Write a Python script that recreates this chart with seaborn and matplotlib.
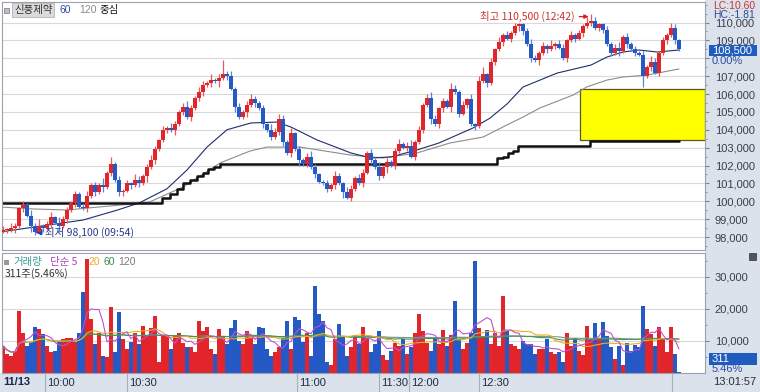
import numpy as np
import pandas as pd
import seaborn as sns
import matplotlib.pyplot as plt
from matplotlib.patches import Rectangle

sns.set_style("white")
plt.rcParams['font.family'] = ['Noto Sans CJK KR', 'DejaVu Sans']
NUM_FONT = ['Liberation Sans Narrow', 'Liberation Sans', 'DejaVu Sans']

W, H = 760, 392

# ---- data (tick bars, one per slot) ----
first_open = 98300
close = [
    98400, 98400, 98500, 98600, 99600, 99800, 99200, 98600, 98300, 98600,
    98500, 98700, 99100, 98800, 98600, 99000, 99500, 99900, 100400, 99700,
    99600, 100300, 100900, 100500, 100900, 100800, 101600, 102100, 101200, 100500,
    100600, 101000, 100900, 101200, 101000, 101400, 101900, 102300, 102900, 103400,
    104000, 104100, 104000, 104300, 105000, 105300, 104700, 105200, 105800, 106100,
    106500, 106600, 106800, 106700, 106900, 107100, 107000, 106300, 105300, 104700,
    105000, 105400, 105700, 105500, 105200, 104300, 104000, 103600, 103900, 104600,
    103300, 102700, 103800, 102900, 102300, 102100, 102500, 101900, 101500, 101100,
    101000, 100700, 100900, 101400, 101000, 100500, 100200, 100700, 101300, 101000,
    101600, 102700, 102300, 101900, 101400, 101900, 102200, 102000, 102800, 103200,
    103000, 103100, 102500, 103300, 104000, 105400, 105800, 104600, 104300, 105200,
    105600, 105300, 106300, 106100, 104900, 105400, 105700, 104300, 104200, 106700,
    107100, 106600, 107800, 108500, 108900, 109300, 109100, 109400, 109800, 109900,
    109500, 108800, 108000, 107900, 108300, 108700, 108500, 108700, 108800, 108600,
    108000, 109000, 109300, 109100, 109400, 109800, 110000, 110100, 109700, 109900,
    109600, 108800, 108300, 108600, 108400, 109200, 108800, 108500, 108300, 108200,
    107000, 107500, 107800, 107200, 108300, 109000, 109300, 109700, 109000, 108500,
]
# wick above / below the body, in 100-won ticks
hi_ext = ("2132121324" "1231322121" "2312141412" "1213212321" "2132123213"
          "2131282312" "1232121323" "2131212321" "1213213212" "2121312123"
          "1231212321" "2132121313" "4121312121" "1232121312" "2121213421"
          "1212312121" "2132121321")
lo_ext = ("1213121321" "2121312121" "1212131212" "2121213121" "1213121212"
          "2121312131" "1312121212" "2121312121" "1212131211" "2121213121"
          "1212121312" "2131212121" "1212121213" "2121312121" "1212121212"
          "2121312121" "6121212121")
volume = [
    8400, 6000, 5300, 7000, 19400, 12500, 8400, 9600, 14400, 13700,
    12200, 8400, 6500, 7000, 10000, 10600, 10800, 11000, 9800, 12500,
    25300, 35500, 16900, 9000, 12500, 5300, 5000, 20600, 6500, 19100,
    10600, 7500, 9700, 12500, 9000, 14700, 11600, 14100, 17800, 3400,
    12000, 12000, 7500, 11500, 12500, 9500, 8000, 8200, 6500, 16300,
    13100, 14300, 7500, 6000, 13700, 11500, 9000, 14000, 16600, 10000,
    9000, 13100, 11300, 9000, 14300, 14000, 7500, 5300, 6500, 8200,
    11000, 16300, 7500, 17500, 16600, 9600, 12500, 5300, 27200, 18400,
    16300, 3400, 2500, 10600, 15300, 11600, 5300, 8000, 12000, 9000,
    14500, 11000, 6500, 9000, 13000, 5500, 4200, 7000, 9500, 8500,
    10500, 6000, 8000, 12500, 18500, 13000, 9500, 7000, 11000, 9000,
    13500, 8500, 12000, 22500, 10500, 7500, 9500, 12500, 35000, 14000,
    11500, 13500, 9000, 12500, 8500, 24000, 13100, 9000, 8500, 7500,
    10000, 9000, 9000, 6000, 7500, 7500, 10600, 6500, 6000, 6500,
    3500, 12500, 8500, 11000, 7000, 5500, 14700, 10500, 15600, 11000,
    16000, 11500, 8000, 4500, 8500, 2500, 9500, 7000, 8800, 8000,
    21000, 13700, 12200, 8500, 14300, 10600, 6500, 14300, 5800, 311,
]

# price moving averages (60 / 120) and the 중심 line, read as knots (bar index, price)
ma60_idx = [-0.75, 20, 28.5, 34, 41, 46, 51, 56, 62, 68.5, 72, 78.5, 87, 92, 97,
            103.5, 109, 117.5, 121.75, 126, 130, 138.5, 147, 151, 155, 159, 163.5, 169]
ma60_val = [98280, 98950, 99500, 99900, 100700, 101750, 103030, 104000, 104380, 104430,
            104150, 103430, 102700, 102420, 102480, 102870, 103260, 104100, 104650,
            105440, 106390, 107170, 107620, 108070, 108350, 108460, 108350, 108460]
ma120_idx = [-0.75, 7.5, 16, 24, 32.5, 36.75, 45, 54.25, 61.75, 66, 74.25, 86.75, 95,
             103.5, 111.75, 120, 126, 130, 134.25, 142.5, 146, 151, 155, 161, 169]
ma120_val = [99680, 99570, 99510, 99680, 99850, 99970, 100800, 102140, 102810, 103030,
             103030, 102590, 102420, 102700, 103260, 103590, 104270, 104710, 105220,
             105940, 106400, 106780, 106950, 107060, 107400]
center_idx = [-0.75, 38.5, 39.75, 41.75, 43.5, 45, 46.75, 48.5, 50, 51.25, 52.75, 54.25,
              122.5, 123.5, 125, 126.25, 127.5, 128.75, 146, 146.75, 169]
center_val = [99900, 99900, 100200, 100400, 100700, 101000, 101200, 101400, 101600,
              101800, 101900, 102100, 102100, 102400, 102500, 102700, 102800, 103100,
              103100, 103350, 103350]

zone_start_idx = 144.25
zone_top, zone_bottom = 106300, 103450

time_pos = [10.5, 31, 73.5, 94, 101.5, 119]
time_labels = ["10:00", "10:30", "11:00", "11:30", "12:00", "12:30"]

# ---- derived frame ----
df = pd.DataFrame({"close": close, "volume": volume})
df["idx"] = np.arange(len(df))
df["open"] = [first_open] + close[:-1]
df["high"] = df[["open", "close"]].max(axis=1) + [int(c) * 100 for c in hi_ext]
df["low"] = df[["open", "close"]].min(axis=1) - [int(c) * 100 for c in lo_ext]
df["up"] = df["close"] >= df["open"]

UP, DN = '#e1252b', '#2459c6'
UPW, DNW = '#e45a5a', '#5a82d6'
STRIP = '#dbe2eb'
GRID = '#d9d9d9'
EDGE = '#9aa2ad'

fig = plt.figure(figsize=(W / 100, H / 100), dpi=100)


def fx(px):
    return px / W


def fy(py):
    return 1 - py / H


def ftext(px, py, s, **kw):
    kw.setdefault('va', 'center')
    kw.setdefault('ha', 'left')
    return fig.text(fx(px), fy(py), s, **kw)


# background strips (kept under the axes)
fig.patches.append(Rectangle((fx(705), 0), fx(760) - fx(705), 1, transform=fig.transFigure,
                             facecolor=STRIP, edgecolor='none', zorder=-5))
fig.patches.append(Rectangle((0, 0), fx(705), fy(373), transform=fig.transFigure,
                             facecolor=STRIP, edgecolor='none', zorder=-5))

XL = (-0.25, 175.5)

# ---- price panel ----
ax = fig.add_axes([fx(2), fy(250), fx(705) - fx(2), fy(2) - fy(250)])
ax.set_xlim(*XL)
ax.set_ylim(97273, 111147)
ax.set_yticks(np.arange(98000, 110001, 1000))
ax.set_yticks(np.arange(97500, 111001, 500), minor=True)
ax.set_yticklabels([f"{v:,}" if v != 108000 else "" for v in range(98000, 110001, 1000)])
ax.yaxis.tick_right()
ax.tick_params(axis='y', which='major', length=3, color='#7a828d', pad=4,
               labelsize=8, labelcolor='#3a3f48')
ax.tick_params(axis='y', which='minor', length=1.5, color='#7a828d')
for t in ax.get_yticklabels():
    t.set_fontfamily(NUM_FONT)
ax.set_xticks([])
ax.grid(axis='y', color=GRID, lw=0.8)
ax.set_axisbelow(True)
for s in ax.spines.values():
    s.set_color(EDGE)
    s.set_linewidth(0.8)

ax.add_patch(Rectangle((zone_start_idx, zone_bottom), XL[1] - zone_start_idx,
                       zone_top - zone_bottom, facecolor='#ffff00',
                       edgecolor='#5a5a20', lw=0.9, zorder=1))

sns.lineplot(x=ma120_idx, y=ma120_val, ax=ax, color='#8c8c8c', lw=0.8, zorder=2)
sns.lineplot(x=ma60_idx, y=ma60_val, ax=ax, color='#1e2f6a', lw=0.8, zorder=2)
sns.lineplot(x=center_idx, y=center_val, ax=ax, color='#111111', lw=1.8, zorder=2,
             drawstyle='steps-post', estimator=None, sort=False)

body = (df["close"] - df["open"]).abs().clip(lower=60)
ax.vlines(df["idx"], df["low"], df["high"], colors=np.where(df["up"], UPW, DNW),
          lw=0.9, zorder=3)
ax.bar(df["idx"], body, bottom=df[["open", "close"]].min(axis=1), width=0.82,
       color=np.where(df["up"], UP, DN), zorder=4, linewidth=0)

ax.annotate("최고 110,500 (12:42)", xy=(146.4, 110330), xytext=(142.9, 110330),
            ha='right', va='center', color='#c83232', fontsize=7.5,
            arrowprops=dict(arrowstyle='-|>', color='#d02020', lw=0.9,
                            mutation_scale=6, shrinkA=1, shrinkB=0))
ax.annotate("최저 98,100 (09:54)", xy=(7.9, 98280), xytext=(10.4, 98280),
            ha='left', va='center', color='#28388a', fontsize=7.5,
            arrowprops=dict(arrowstyle='-|>', color='#1f3fbf', lw=1.5,
                            mutation_scale=8, shrinkA=0, shrinkB=0))
ax.set_xlabel("")
ax.set_ylabel("")

# ---- volume panel ----
av = fig.add_axes([fx(2), fy(373), fx(705) - fx(2), fy(253) - fy(373)])
av.set_xlim(*XL)
av.set_ylim(0, 37500)
av.set_yticks([10000, 20000, 30000])
av.set_yticks(np.arange(5000, 36000, 5000), minor=True)
av.set_yticklabels(["10,000", "20,000", "30,000"])
av.yaxis.tick_right()
av.tick_params(axis='y', which='major', length=3, color='#7a828d', pad=4,
               labelsize=8, labelcolor='#3a3f48')
av.tick_params(axis='y', which='minor', length=1.5, color='#7a828d')
for t in av.get_yticklabels():
    t.set_fontfamily(NUM_FONT)
av.set_xticks([])
av.grid(axis='y', color=GRID, lw=0.8)
av.set_axisbelow(True)
for s in av.spines.values():
    s.set_color(EDGE)
    s.set_linewidth(0.8)

av.bar(df["idx"], df["volume"], width=1.0, color=np.where(df["up"], UP, DN),
       linewidth=0, zorder=2)
for win, col in [(120, '#8c8c8c'), (60, '#3a9a50'), (20, '#e8b020'), (5, '#c050d0')]:
    sns.lineplot(x=df["idx"], y=df["volume"].rolling(win, min_periods=1).mean(),
                 ax=av, color=col, lw=0.8, zorder=3)
av.set_xlabel("")
av.set_ylabel("")

# ---- time strip ----
at = fig.add_axes([fx(2), fy(392), fx(705) - fx(2), fy(373) - fy(392)])
at.set_xlim(*XL)
at.set_ylim(0, 1)
at.axis('off')
for p, lab in zip(time_pos, time_labels):
    at.axvline(p, color='#a7afba', lw=0.8)
    at.text(p + 0.4, 0.45, lab, va='center', ha='left', fontsize=8,
            color='#1f2c48', family=NUM_FONT)
at.axvline(167.25, color='#a7afba', lw=0.8)
ftext(3, 382, "11/13", fontsize=8, color='#1a2850', fontweight='bold', family=NUM_FONT)
ftext(713, 382, "13:01:57", fontsize=8, color='#2a2f3a', family=NUM_FONT)

# ---- legends / headers ----
fig.patches.append(Rectangle((fx(4), fy(13)), 5 / W, 5 / H, transform=fig.transFigure,
                             facecolor='#bdbdbd', edgecolor='#8a8a8a', lw=0.6))
ftext(14, 10, "신풍제약", fontsize=7.5, color='#333333',
      bbox=dict(boxstyle='square,pad=0.15', facecolor='#dadada', edgecolor='#b5b5b5', lw=0.6))
ftext(60, 10, "60", fontsize=7.5, color='#2a4a9a', family=NUM_FONT)
ftext(79, 10, "120", fontsize=7.5, color='#8a8a8a', family=NUM_FONT)
ftext(100, 10, "중심", fontsize=7.5, color='#111111')

fig.patches.append(Rectangle((fx(4), fy(265)), 5 / W, 5 / H, transform=fig.transFigure,
                             facecolor='#9a9a9a', edgecolor='none'))
ftext(13, 262, "거래량", fontsize=7.5, color='#3a9a9a')
ftext(50, 262, "단순 5", fontsize=7.5, color='#b040c0')
ftext(88, 262, "20", fontsize=7.5, color='#e0b020', family=NUM_FONT)
ftext(103, 262, "60", fontsize=7.5, color='#3a8a4a', family=NUM_FONT)
ftext(118, 262, "120", fontsize=7.5, color='#7a7a7a', family=NUM_FONT)
ftext(5, 274, "311주(5.46%)", fontsize=7.5, color='#333333')

# ---- right-hand readouts ----
ftext(713, 6, "LC:10.60", fontsize=7.5, color='#c83232', family=NUM_FONT)
ftext(713, 14.5, "HC:-1.81", fontsize=7.5, color='#2a4a9a', family=NUM_FONT)
fig.patches.append(Rectangle((fx(709), fy(56)), 48 / W, 11 / H, transform=fig.transFigure,
                             facecolor='#1f5cc0', edgecolor='none', zorder=3))
ftext(712, 50.5, "108,500", fontsize=8, color='white', family=NUM_FONT, zorder=4)
ftext(712, 61, "0.00%", fontsize=8, color='#2a4aa0', family=NUM_FONT)
fig.patches.append(Rectangle((fx(709), fy(365)), 48 / W, 12 / H, transform=fig.transFigure,
                             facecolor='#1f5cc0', edgecolor='none', zorder=3))
ftext(712, 359, "311", fontsize=8, color='white', family=NUM_FONT, zorder=4)
ftext(712, 369.5, "5.46%", fontsize=8, color='#2a4aa0', family=NUM_FONT)
fig.patches.append(Rectangle((fx(749), fy(260)), 7 / W, 7 / H, transform=fig.transFigure,
                             facecolor='#555555', edgecolor='#333333', lw=0.5))

fig.savefig("out.png", dpi=100)
